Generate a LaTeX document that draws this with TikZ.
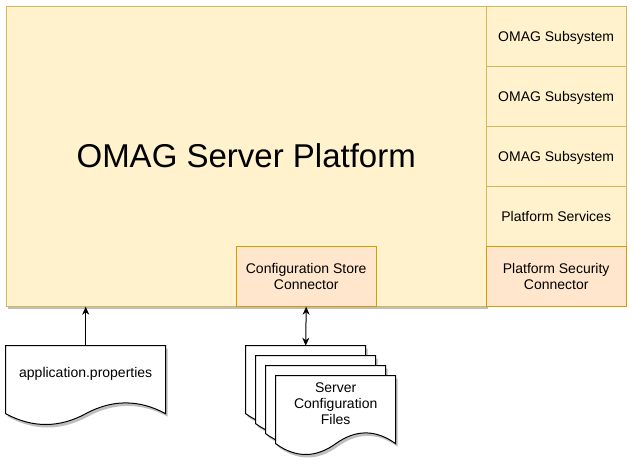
\documentclass[tikz,border=0pt]{standalone}
\usepackage{fontspec}
\setmainfont{Liberation Sans}
\usetikzlibrary{shadows,arrows.meta,calc}
\definecolor{ylfill}{HTML}{FFF2CC}
\definecolor{ylline}{HTML}{D6B656}
\definecolor{orfill}{HTML}{FFE6CC}
\definecolor{orline}{HTML}{D79B00}
\tikzset{
  box/.style={draw=ylline, fill=ylfill, line width=1pt, rectangle, inner sep=0pt,
    anchor=north west, align=center, font=\fontsize{14}{16}\selectfont},
  conbox/.style={box, draw=orline, fill=orfill},
  oneline/.style={text height=11pt, text depth=0pt},
  dshadow/.style={drop shadow={shadow xshift=2pt, shadow yshift=-3pt, fill=black, opacity=0.25}},
  docframe/.style={rectangle, inner sep=0pt, outer sep=0pt, anchor=north west},
  docline/.style={draw=black, fill=white, line width=1pt, dshadow},
  txt/.style={font=\fontsize{14}{16}\selectfont, align=center, inner sep=0pt},
  tip/.style={Stealth[length=8pt,width=7pt,inset=2.5pt]},
  link/.style={line width=1pt, -{Stealth[length=8pt,width=7pt,inset=2.5pt]}},
  linkboth/.style={line width=1pt, {Stealth[length=8pt,width=7pt,inset=2.5pt]}-{Stealth[length=8pt,width=7pt,inset=2.5pt]}},
}
\newcommand{\docpath}[1]{%
  \path[docline] let \p1=(#1.north west), \p2=(#1.south east), \p3=($(\p2)-(\p1)$) in
    (\x1,\y1) -- (\x2,\y1) -- (\x2,\y1+0.85*\y3)
    .. controls (\x1+0.8333*\x3,\y1+0.67*\y3) and (\x1+0.6667*\x3,\y1+0.67*\y3) .. (\x1+0.5*\x3,\y1+0.85*\y3)
    .. controls (\x1+0.3333*\x3,\y1+1.03*\y3) and (\x1+0.1667*\x3,\y1+1.03*\y3) .. (\x1,\y1+0.85*\y3) -- cycle;}
\begin{document}
\begin{tikzpicture}[x=1pt,y=-1pt]
  \useasboundingbox (-5.7,-5.7) rectangle (627.3,458.3);
  % platform
  \node[box, dshadow, minimum width=480pt, minimum height=300pt, font=\fontsize{33}{38}\selectfont] (main) at (0,0) {OMAG Server Platform};
  \node[box, oneline, minimum width=140pt, minimum height=60pt] (sub1) at (480,0) {OMAG Subsystem};
  \node[box, oneline, minimum width=140pt, minimum height=60pt] (sub2) at (480,60) {OMAG Subsystem};
  \node[box, oneline, minimum width=140pt, minimum height=60pt] (sub3) at (480,120) {OMAG Subsystem};
  \node[box, oneline, minimum width=140pt, minimum height=60pt] (psvc) at (480,180) {Platform Services};
  \node[conbox, minimum width=140pt, minimum height=60pt] (psec) at (480,240) {Platform Security\\Connector};
  \node[conbox, minimum width=140pt, minimum height=60pt] (cfg) at (230,240) {Configuration Store\\Connector};
  % application.properties
  \node[docframe, minimum width=160pt, minimum height=80pt] (appdoc) at (0,340) {};
  \docpath{appdoc}
  \node[txt] (apptext) at ($(appdoc.north)+(0,28)$) {application.properties};
  % config files stack
  \node[docframe, minimum width=120pt, minimum height=80pt] (cf1) at (240,340) {};
  \docpath{cf1}
  \node[docframe, minimum width=120pt, minimum height=80pt] (cf2) at (250,350) {};
  \docpath{cf2}
  \node[docframe, minimum width=120pt, minimum height=80pt] (cf3) at (260,360) {};
  \docpath{cf3}
  \node[docframe, minimum width=120pt, minimum height=80pt] (cf4) at (270,370) {};
  \docpath{cf4}
  \node[txt] (cftext) at ($(cf4.north)+(0,28)$) {Server\\Configuration\\Files};
  % connectors
  \draw[link] (appdoc.north) -- (appdoc.north |- main.south);
  \draw[linkboth] (cf1.north) -- (cfg.south);
\end{tikzpicture}
\end{document}
